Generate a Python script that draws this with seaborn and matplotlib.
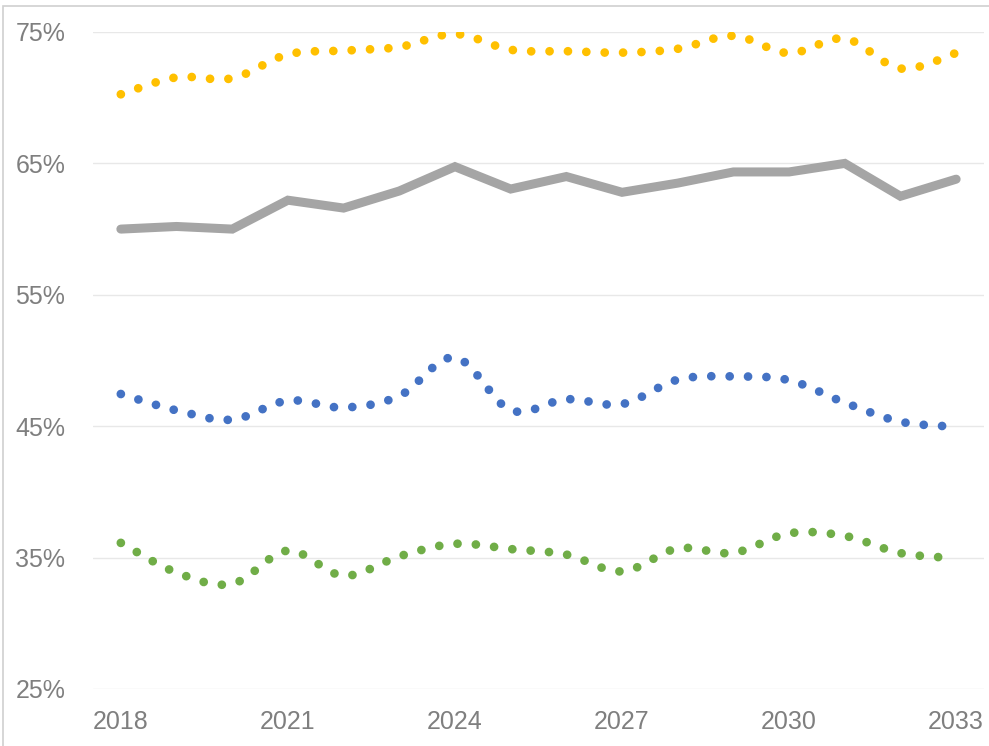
import numpy as np
import pandas as pd
import seaborn as sns
from matplotlib import pyplot as plt
from matplotlib.patches import Rectangle

years = list(range(2018, 2034))
gray_vals = [60.0, 60.2, 60.0, 62.2, 61.6, 62.9, 64.75, 63.05, 64.0, 62.8,
             63.5, 64.35, 64.35, 65.0, 62.5, 63.8]
yellow_vals = [70.26, 71.55, 71.48, 73.3, 73.58, 73.86, 74.85, 73.65, 73.54, 73.43,
               73.72, 74.71, 73.39, 74.5, 72.22, 73.4]
blue_vals = [47.45, 46.2, 45.5, 46.95, 46.42, 47.3, 50.23, 46.22, 47.05, 46.68,
             48.54, 48.79, 48.5, 46.79, 45.34, 44.96]
green_vals = [36.12, 33.86, 33.0, 35.53, 33.62, 35.1, 36.05, 35.65, 35.23, 33.95,
              35.7, 35.36, 36.85, 36.65, 35.34, 34.96]
y_ticks = [25, 35, 45, 55, 65, 75]
x_ticks = [2018, 2021, 2024, 2027, 2030, 2033]

YELLOW = '#FFC000'
GRAY = '#A5A5A5'
BLUE = '#4472C4'
GREEN = '#70AD47'
TEXT = '#7f7f7f'


def smooth(xs, ys, n=30):
    # Excel style smoothed line (Catmull-Rom as Bezier segments)
    p = np.column_stack([xs, ys]).astype(float)
    p = np.vstack([p[0], p, p[-1]])
    t = np.linspace(0, 1, n, endpoint=False)[:, None]
    out = []
    for i in range(1, len(p) - 2):
        p0, p1, p2, p3 = p[i], p[i + 1], p[i - 1], p[i + 2]
        c1 = p0 + (p1 - p2) / 6
        c2 = p1 - (p3 - p0) / 6
        seg = ((1 - t) ** 3) * p0 + 3 * ((1 - t) ** 2) * t * c1 + 3 * (1 - t) * t ** 2 * c2 + t ** 3 * p1
        out.append(seg)
    out.append(p[-2][None, :])
    out = np.vstack(out)
    return out[:, 0], out[:, 1]


sns.set_theme(style='white')
plt.rcParams['font.family'] = ['Liberation Sans', 'DejaVu Sans']

fig = plt.figure(figsize=(9.89, 7.46), dpi=100)
ax = fig.add_axes([93 / 989, 1 - 689 / 746, (984 - 93) / 989, (689 - 32) / 746])

lw_dot = 6.3
for vals, col in [(yellow_vals, YELLOW), (blue_vals, BLUE), (green_vals, GREEN)]:
    sx, sy = smooth(years, vals)
    df = pd.DataFrame({'year': sx, 'value': sy})
    sns.lineplot(data=df, x='year', y='value', ax=ax, color=col, linewidth=lw_dot,
                 linestyle=(0, (0.001, 2.1)), dash_capstyle='round',
                 estimator=None, sort=False)

gdf = pd.DataFrame({'year': years, 'value': gray_vals})
sns.lineplot(data=gdf, x='year', y='value', ax=ax, color=GRAY, linewidth=6.5,
             solid_capstyle='round', solid_joinstyle='miter', estimator=None)

ax.set_xlim(2017.5, 2033.5)
ax.set_ylim(25, 75)
ax.set_yticks(y_ticks)
ax.set_yticklabels([f'{v}%' for v in y_ticks])
ax.set_xticks(x_ticks)
ax.set_xticklabels([str(v) for v in x_ticks])
ax.grid(axis='y', color='#e8e8e8', linewidth=1)
ax.grid(axis='x', visible=False)
for s in ax.spines.values():
    s.set_visible(False)
ax.tick_params(axis='y', length=0, pad=20, labelsize=18, labelcolor=TEXT)
ax.tick_params(axis='x', length=0, pad=15, labelsize=18, labelcolor=TEXT)
ax.set_xlabel('')
ax.set_ylabel('')
ax.set_axisbelow(True)

fig.add_artist(Rectangle((3 / 989, -0.5), 1.5, 0.5 + (1 - 6 / 746),
                         transform=fig.transFigure, fill=False,
                         edgecolor='#d0d0d0', linewidth=1.2))

fig.savefig('out.png', dpi=100)
